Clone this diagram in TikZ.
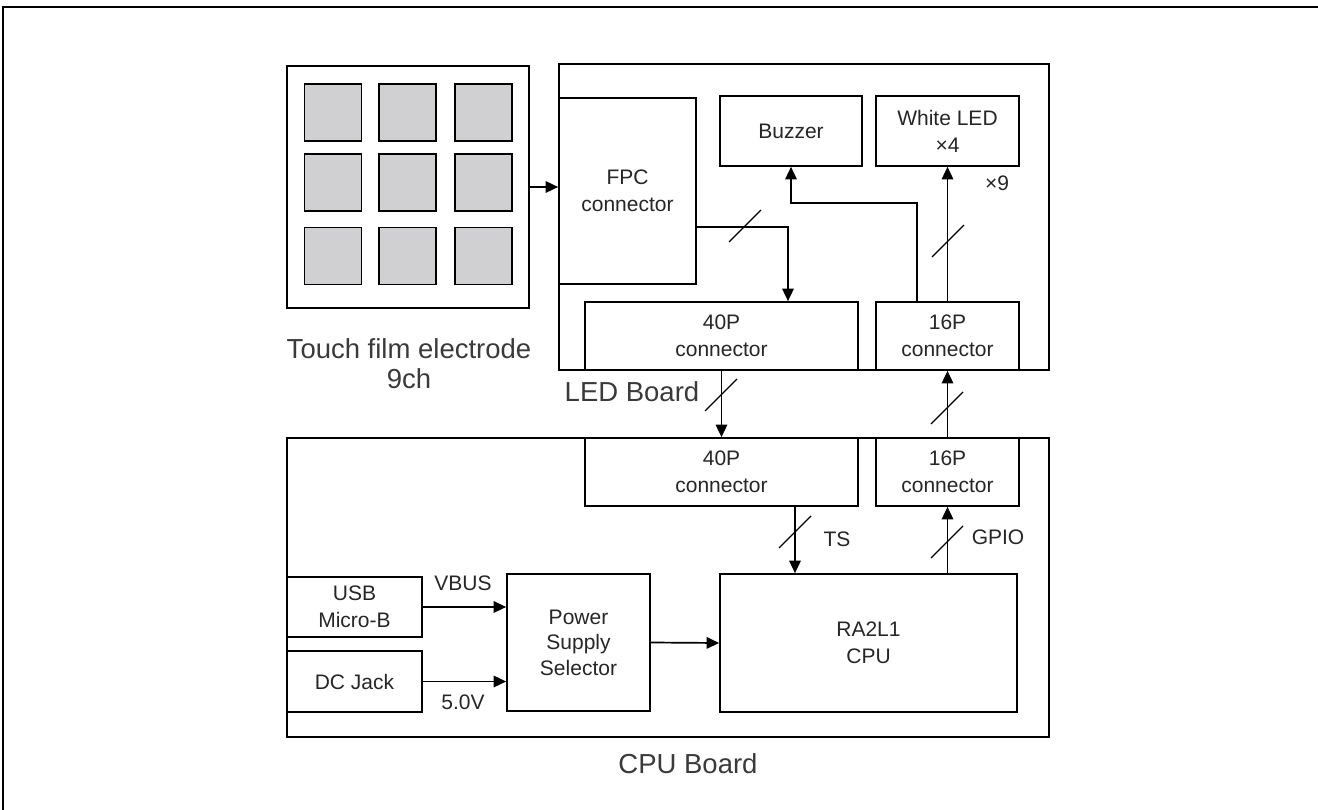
\documentclass[tikz,border=0pt]{standalone}
\usepackage{fontspec}
\setmainfont{Liberation Sans}
\usetikzlibrary{arrows.meta}
\definecolor{txt}{HTML}{262626}
\definecolor{lbl}{HTML}{3A3A3A}
\definecolor{pad}{HTML}{D0D0D2}
\begin{document}
\begin{tikzpicture}[x=1pt,y=-1pt,
  blk/.style={draw=black, line width=1.7pt, inner sep=0pt, align=center,
    font=\fontsize{21}{27}\selectfont, text=txt, fill=white},
  board/.style={draw=black, line width=1.7pt, inner sep=0pt},
  padsq/.style={draw=black, line width=1.7pt, fill=pad, minimum width=57pt, minimum height=57pt, inner sep=0pt},
  arr/.style={line width=1.7pt, -{Triangle[length=12.5pt,width=11.5pt]}},
  small/.style={font=\fontsize{21}{27}\selectfont, text=txt, inner sep=0pt},
  biglbl/.style={font=\fontsize{27.5}{30}\selectfont, text=lbl, inner sep=0pt, align=center},
  slashmark/.pic={\draw[line width=1.2pt] (-16pt,-16pt) -- (16pt,16pt);}
]
\useasboundingbox (0,0) rectangle (1318,810);
% outer frame (top and left edges)
\draw[line width=2.5pt] (3,810) -- (3,7) -- (1318,7);

% touch film
\node[board, minimum width=242pt, minimum height=242pt] (touch) at (408,187) {};
\foreach \cx/\cn in {333/a,407.5/b,483.5/c}
  \foreach \cy/\rn in {112.5/1,182.5/2,256/3}
    \node[padsq] (pad\cn\rn) at (\cx,\cy) {};
\node[biglbl] (touchlbl) at (409,364) {Touch film electrode\\9ch};

% LED board
\node[board, minimum width=490pt, minimum height=306pt] (ledb) at (804,217) {};
\node[blk, minimum width=137pt, minimum height=186pt] (fpc) at (627.5,191) {FPC\\connector};
\node[blk, minimum width=142pt, minimum height=70pt] (buzzer) at (791,131) {Buzzer};
\node[blk, minimum width=143pt, minimum height=70pt] (wled) at (947.5,131) {White LED\\×4};
\node[blk, minimum width=273pt, minimum height=68pt] (led40) at (721.5,336) {40P\\connector};
\node[blk, minimum width=143pt, minimum height=68pt] (led16) at (947.5,336) {16P\\connector};
\node[small] (x9) at (997,183) {×9};
\node[biglbl] (ledlbl) at (632,392) {LED Board};

% CPU board
\node[board, minimum width=762pt, minimum height=299pt] (cpub) at (668,587.5) {};
\node[blk, minimum width=273pt, minimum height=68pt] (cpu40) at (721.5,472) {40P\\connector};
\node[blk, minimum width=143pt, minimum height=68pt] (cpu16) at (947.5,472) {16P\\connector};
\node[blk, minimum width=297pt, minimum height=138pt] (cpu) at (868.5,643) {RA2L1\\CPU};
\node[blk, minimum width=135pt, minimum height=60pt] (usb) at (354.5,607) {USB\\Micro-B};
\node[blk, minimum width=135pt, minimum height=61pt] (dc) at (354.5,681.5) {DC Jack};
\node[blk, minimum width=143pt, minimum height=137pt, font=\fontsize{21}{25.5}\selectfont] (pss) at (578.5,642.5) {Power\\Supply\\Selector};
\node[biglbl] (cpulbl) at (688,764) {CPU Board};

% connectors
\draw[arr] (touch.east) -- (touch.east -| fpc.west);
\draw[arr] ([yshift=-36pt]fpc.east) -| ([xshift=66.5pt]led40.north);
\pic at (745,226) {slashmark};
\draw[arr] ([xshift=-30.5pt]led16.north) -- ++(0,98pt) -| (buzzer.south);
\draw[arr] (led16.north) -- (wled.south);
\pic at (948,241) {slashmark};
\draw[arr] (led40.south) -- (cpu40.north);
\pic at (721,395) {slashmark};
\draw[arr] (cpu16.north) -- (led16.south);
\pic at (947,408) {slashmark};
\draw[arr] ([xshift=73.5pt]cpu40.south) -- ([xshift=73.5pt]cpu40.south |- cpu.north);
\pic at (795,532) {slashmark};
\node[small] (ts) at (837,539) {TS};
\draw[arr] (cpu.north -| cpu16.south) -- (cpu16.south);
\pic at (947,542) {slashmark};
\node[small] (gpio) at (998,537) {GPIO};
\draw[arr] (usb.east) -- (usb.east -| pss.west);
\node[small] (vbus) at (463,583) {VBUS};
\draw[arr] (dc.east) -- (dc.east -| pss.west);
\node[small] (v50) at (463,702) {5.0V};
\draw[arr] (pss.east) -- (cpu.west);
\end{tikzpicture}
\end{document}
